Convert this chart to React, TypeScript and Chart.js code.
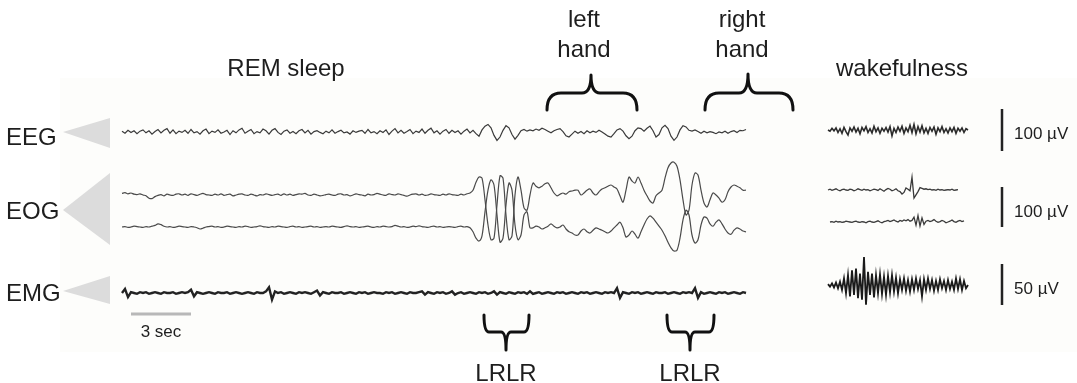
import React, { useEffect, useRef } from "react";
import { Chart, registerables } from "chart.js";

Chart.register(...registerables);

// ---------- sampling (seconds) ----------
const REM_T0 = 0.1;
const REM_DT = 0.15;
const WAKE_T0 = 35.4;
const WAKE_EOG2_T0 = 35.5;
const WAKE_DT = 0.1;

// ---------- REM sleep traces (µV) ----------
const remEEG = [
  2, -3, 4, -1, 3, -4, 2, 5, -2, 3, -5, 1, 6, -2, 4, 8, -3, 5, -4, 2,
  -1, 4, -3, 6, -2, 1, -5, 3, 7, -4, 2, -1, 5, -3, 0, 4, -6, 3, -2, 5,
  9, -3, 2, 6, -4, 1, -2, 7, 3, -5, 4, 8, -1, -6, 2, 5, -3, 1, -4, 3,
  6, -2, 4, -5, 1, 3, -1, -4, 2, -2, 5, -3, 1, 4, -2, 0, -5, 3, -1, 2,
  4, -3, 6, -2, 1, -4, 3, -1, 5, -6, 2, 8, -2, 4, -3, 1, 6, -4, 2, -1,
  7, -3, 4, 9, -2, 3, -5, 2, 6, -3, 4, -1, 3, -5, 2, 7, -2, 4,
  -4, -10, 5, 14, 18, 10, -8, -20, -12, 4,
  15, 10, -6, -17, -8, 3, 6, 2, 5, 3,
  7, 4, 9, 6, 2, -2, 3, 6, 8, 1,
  -9, -12, -5, 2, -3, 1, -4, 3, -2, 2,
  -1, 4, 0, -5, -10, -12, -4, 5, 8, 2,
  -9, -16, -10, 3, 10, 8, 2, 9, 14, 3,
  -12, -6, 10, 16, 8, -10, -20, -12, 5, 15,
  12, 4, 2, 5, 1, -3, 2, -2, 1, -1,
  -4, 0, -2, 2, -3, 1, 3, -1, 4, 3,
  6,
];

const remEOGUpper = [
  4, 6, 3, 5, 2, 1, 3, 0, -2, -8, -9, -4, -1, 1, -2, 2, 0, -1, 2, 3,
  0, 2, -1, 3, 1, -1, 2, 4, 1, 0, -1, 2, 0, 3, -1, 1, 2, -2, 0, 2,
  3, 0, -1, 2, 0, -2, 1, 0, 3, 1, -1, 1, 2, -1, 3, 0, 2, -1, 1, 3,
  2, 4, 0, -1, 2, 0, -2, -1, 1, 2, 0, -1, 2, 3, 0, 1, -2, 0, 3, 1,
  0, -2, 2, 0, 1, 4, 2, 0, -1, 3, 1, 0, 3, 1, -1, -3, 0, 2, 3, 0,
  2, -1, 0, 3, 1, 0, -1, 2, 0, 3, 1, 0, -1, 2, 0, 3,
  5, 12, 32, 45, 42, -12, -75, -112, -108, -25,
  48, 42, -50, -112, -102, 0, 45, 12, -32, -38,
  0, 30, 22, 18, 22, 28, 30, 18, 5, -2,
  2, 5, 2, 8, 10, 12, 12, 0, 5, 12,
  15, 5, 0, 8, 15, 18, 22, 25, 20, 15,
  -2, -18, 12, 45, 35, 30, 45, 30, 12, -2,
  -15, -20, -2, 5, 12, 42, 68, 80, 82, 72,
  38, -12, -50, -38, 25, 55, 50, 12, -20, -30,
  -12, 5, 0, -8, -18, -12, 8, 20, 25, 22,
  18, 12, 12,
];

const remEOGLower = [
  0, 1, -1, 0, 2, 1, 0, -1, 1, 0, 2, 4, 8, 6, 2, 0, 1, -1, 0, 2,
  1, 0, -1, 1, 0, -2, -5, -3, 0, 1, 2, 0, 1, -1, 0, 2, 1, 0, -1, 1,
  0, 2, 1, -1, 0, 1, 3, 1, 0, -1, 1, 0, 2, 1, 0, -1, 1, 2, 0, 1,
  -1, 0, 1, 2, 0, 1, -1, 0, 1, 0, 2, 1, 0, -1, 1, 3, 1, 0, 1, -1,
  0, 1, 2, 0, -1, 1, 0, 2, 1, 0, 1, 4, 2, 0, 1, -1, 0, 2, 1, 3,
  1, 0, -1, 1, 2, 0, 1, -1, 0, 1, 0, -1, 1, 2, 0, 1,
  -2, -12, -28, -35, -22, 38, 92, 118, 105, 30,
  -38, -28, 55, 110, 92, 5, -32, -20, 30, 38,
  -2, -2, 2, 0, -5, -2, 2, 8, 2, -2,
  0, 5, -5, -12, -15, -20, -20, -10, -5, -12,
  -15, -8, -2, -5, -8, -12, -15, -10, -2, 5,
  12, -2, -25, -20, -10, -18, -28, -12, 5, 20,
  28, 22, 12, 2, -8, -22, -38, -52, -60, -58,
  -28, 18, 42, 30, -20, -40, -32, 5, 25, 22,
  8, 2, 12, 18, 8, -5, -15, -18, -8, -2,
  -5, -10, -12,
];

const remEMG = [
  0, 5, -5, 1, 0, -1, 1, 0, 1, -1, 0, 1, 0, -1, 1, 0, 0, 1, -1, 0,
  1, 0, 1, 4, -4, 1, 0, -1, 0, 1, 0, -1, 1, 0, 0, 1, -1, 0, 1, 0,
  -1, 0, 1, 0, -1, 1, 0, 0, 2, 7, -8, 2, 0, 1, -1, 0, 1, 0, -1, 1,
  0, 1, 0, -1, 1, 3, -3, 1, 0, -1, 1, 0, 0, 1, -1, 0, 1, 0, -1, 1,
  0, 1, -1, 0, 1, 0, 0, -1, 1, 0, 1, -1, 0, 1, 0, -1, 1, 0, 0, 1,
  2, -2, 1, 0, -1, 1, 0, 1, -1, 0, 2, -2, 0, 1, -1, 0, 1, 0, -1, 1,
  0, 1, -1, 0, 2, -2, 1, 0, -1, 1, 0, -1, 1, 0, 1, -1, 2, -1, 0, 1,
  -1, 0, 1, 0, -1, 1, 0, 1, -1, 0, 1, 0, -1, 1, 0, 1, -1, 0, 1, 0,
  -1, 1, 0, 1, 0, 6, -6, 1, 0, -1, 1, 0, 1, -1, 0, 1, 0, -1, 1, 0,
  0, 1, -1, 0, 1, 0, -1, 1, 0, 1, 0, 6, -6, 1, -1, 0, 1, 0, -1, 1,
  0, 1, -1, 0, 1, 0, -1, 1, 0,
];

// ---------- wakefulness traces (µV) ----------
const wakeEEG = [
  0, -3, 4, -2, 5, -6, 3, -8, 6, -4, -12, 5, -3, 7, -5, 4, -9, 6, -2, 8,
  -6, 3, -7, 9, -4, 5, -8, 4, -3, 6, -5, 8, -14, 4, -6, 7, -3, 9, -8, 5,
  -4, 11, -6, 13, -9, 8, -5, 10, -7, 4, -8, 6, -3, 7, -10, 5, -4, 8, -6, 3,
  -7, 5, -4, 6, -8, 4, -3, 5, -6, 3, 0,
];

const wakeEOGUpper = [
  0, 2, -1, 1, 3, 0, -2, 1, 2, 0, -1, 2, 1, -2, 0, 3, 1, -1, 2, 0,
  1, -2, 0, 2, 1, -1, 3, 0, -3, 1, 4, 2, -2, 0, 3, -2, -4, -10, -6, 5,
  2, -2, 32, -20, -12, -4, 6, 4, 2, 3, 1, 2, 0, 1, -1, 2, 0, 1, -1, 0,
  1, 0, 2, -1, 0, 1,
];

const wakeEOGLower = [
  0, 1, -1, 2, 0, 1, -1, 0, 2, 1, 0, -1, 1, 2, 0, -1, 1, 0, -2, 1,
  2, 0, -1, 1, 3, 0, -2, 1, 2, 4, 1, 3, 5, 2, 0, 4, 2, 5, 3, 6,
  2, 4, 12, -8, 16, -10, 10, -6, 2, 4, 1, 3, 6, 2, -1, 1, 4, 2, -2, 0,
  2, 5, 1, -1, 2, 4, 1, 3,
];

const wakeEMG = [
  1, -2, 2, -3, 3, -4, 4, -6, 8, -10, 12, -14, 18, -12, 20, -16, 14, -18, 34, -24,
  16, -12, 14, -15, 12, -10, 13, -11, 10, -12, 11, -9, 12, -8, 9, -10, 7, -6, 8, -7,
  6, -8, 7, -6, 8, -5, 6, -14, 7, -6, 8, -5, 6, -7, 5, -6, 7, -4, 5, -6,
  6, -5, 4, -6, 8, -5, 7, -6, 5, -4, 0,
];

// ---------- calibration bars ----------
const EEG_BAR_UV = 100;
const EOG_BAR_UV = 100;
const EMG_BAR_UV = 50;
const TIME_BAR_SEC = 3;

// ---------- layout (figure units) ----------
const X_MIN = -6;
const X_MAX = 47.85;
const Y_MAX = 383;
const GAIN = { eeg: 0.42, eog: 0.4, emg: 0.82 };
const BASE = {
  remEEG: 132, remEOG1: 195, remEOG2: 227, remEMG: 293,
  wakeEEG: 130, wakeEOG1: 190, wakeEOG2: 222, wakeEMG: 285,
};

const toPts = (vals: number[], t0: number, dt: number, base: number, gain: number) =>
  vals.map((v, i) => ({ x: t0 + i * dt, y: base - v * gain }));

const FONT = '"Liberation Sans", Arial, Helvetica, sans-serif';

function Label(props: { x: number; y: number; size: number; text: string; align?: string }) {
  const { x, y, size, text, align = "center" } = props;
  return (
    <div
      style={{
        position: "absolute",
        left: x,
        top: y - 0.8465 * size,
        fontSize: size,
        lineHeight: 1,
        fontFamily: FONT,
        color: "#1e1e1e",
        whiteSpace: "nowrap",
        transform: align === "center" ? "translateX(-50%)" : "none",
      }}
    >
      {text}
    </div>
  );
}

export default function App() {
  const ref = useRef<HTMLCanvasElement | null>(null);

  useEffect(() => {
    if (!ref.current) return;

    const line = (data: any[], color: string, width: number, tension = 0) => ({
      data,
      borderColor: color,
      borderWidth: width,
      pointRadius: 0,
      tension,
      fill: false,
    });

    const barX = 44.1;
    const datasets = [
      line(toPts(remEEG, REM_T0, REM_DT, BASE.remEEG, GAIN.eeg), "#3a3a3a", 1.2),
      line(toPts(remEOGUpper, REM_T0, REM_DT, BASE.remEOG1, GAIN.eog), "#4a4a4a", 1.2, 0.3),
      line(toPts(remEOGLower, REM_T0, REM_DT, BASE.remEOG2, GAIN.eog), "#4a4a4a", 1.2, 0.3),
      line(toPts(remEMG, REM_T0, REM_DT, BASE.remEMG, GAIN.emg), "#222222", 2.4),
      line(toPts(wakeEEG, WAKE_T0, WAKE_DT, BASE.wakeEEG, GAIN.eeg), "#2a2a2a", 1.6),
      line(toPts(wakeEOGUpper, WAKE_T0, WAKE_DT, BASE.wakeEOG1, GAIN.eog), "#3a3a3a", 1.3),
      line(toPts(wakeEOGLower, WAKE_EOG2_T0, WAKE_DT, BASE.wakeEOG2, GAIN.eog), "#3a3a3a", 1.3),
      line(toPts(wakeEMG, WAKE_T0, WAKE_DT, BASE.wakeEMG, GAIN.emg), "#1a1a1a", 1.8),
      // calibration bars
      line([{ x: barX, y: 151 }, { x: barX, y: 151 - EEG_BAR_UV * GAIN.eeg }], "#222", 2.5),
      line([{ x: barX, y: 227 }, { x: barX, y: 227 - EOG_BAR_UV * GAIN.eog }], "#222", 2.5),
      line([{ x: barX, y: 305 }, { x: barX, y: 305 - EMG_BAR_UV * GAIN.emg }], "#222", 2.5),
      line([{ x: 0.55, y: 314 }, { x: 0.55 + TIME_BAR_SEC, y: 314 }], "#b8b8b8", 3),
    ];

    const decor = {
      id: "decor",
      beforeDatasetsDraw(chart: any) {
        const { ctx } = chart;
        const xs = chart.scales.x;
        const ys = chart.scales.y;
        const X = (t: number) => xs.getPixelForValue(t);
        const Y = (v: number) => ys.getPixelForValue(v);
        ctx.save();
        ctx.fillStyle = "#fdfdfb";
        ctx.fillRect(X(-3), Y(78), X(X_MAX) - X(-3), Y(352) - Y(78));
        ctx.fillStyle = "#dcdcdc";
        const tri = (tip: number, top: number, bot: number) => {
          ctx.beginPath();
          ctx.moveTo(X(-2.85), Y(tip));
          ctx.lineTo(X(-0.5), Y(top));
          ctx.lineTo(X(-0.5), Y(bot));
          ctx.closePath();
          ctx.fill();
        };
        tri(132, 118, 148);
        tri(210, 173, 245);
        tri(291, 276, 304);
        ctx.restore();
      },
      afterDatasetsDraw(chart: any) {
        const { ctx } = chart;
        const xs = chart.scales.x;
        const ys = chart.scales.y;
        const X = (t: number) => xs.getPixelForValue(t);
        const Y = (v: number) => ys.getPixelForValue(v);
        const brace = (tl: number, tc: number, tr: number, yEnd: number, yMid: number, yTip: number, r: number, r2: number) => {
          const xl = X(tl), xc = X(tc), xr = X(tr);
          const ye = Y(yEnd), ym = Y(yMid), yt = Y(yTip);
          ctx.beginPath();
          ctx.moveTo(xl, ye);
          ctx.quadraticCurveTo(xl, ym, xl + r, ym);
          ctx.lineTo(xc - r2, ym);
          ctx.quadraticCurveTo(xc, ym, xc, yt);
          ctx.quadraticCurveTo(xc, ym, xc + r2, ym);
          ctx.lineTo(xr - r, ym);
          ctx.quadraticCurveTo(xr, ym, xr, ye);
          ctx.stroke();
        };
        ctx.save();
        ctx.strokeStyle = "#111";
        ctx.lineWidth = 3;
        ctx.lineCap = "round";
        ctx.lineJoin = "round";
        brace(21.35, 23.55, 25.85, 110, 93, 75, 14, 9);
        brace(29.25, 31.4, 33.65, 110, 93, 74, 14, 9);
        brace(18.2, 19.3, 20.45, 315, 332, 350, 5, 5);
        brace(27.35, 28.5, 29.7, 315, 332, 350, 5, 5);
        ctx.restore();
      },
    };

    const chart = new Chart(ref.current, {
      type: "line",
      data: { datasets },
      options: {
        animation: false,
        responsive: false,
        devicePixelRatio: 1,
        layout: { padding: 0 },
        plugins: { legend: { display: false }, tooltip: { enabled: false } },
        scales: {
          x: { type: "linear", min: X_MIN, max: X_MAX, display: false },
          y: { type: "linear", min: 0, max: Y_MAX, reverse: true, display: false },
        },
      },
      plugins: [decor],
    } as any);

    return () => chart.destroy();
  }, []);

  return (
    <div style={{ position: "absolute", left: 0, top: 0, width: 1077, height: 383, background: "#fff", overflow: "hidden" }}>
      <canvas ref={ref} width={1077} height={383} style={{ position: "absolute", left: 0, top: 0 }} />
      <Label x={286} y={76} size={24} text="REM sleep" />
      <Label x={584} y={27} size={24} text="left" />
      <Label x={584} y={57} size={24} text="hand" />
      <Label x={742} y={27} size={24} text="right" />
      <Label x={742} y={57} size={24} text="hand" />
      <Label x={902} y={76} size={24} text="wakefulness" />
      <Label x={6} y={145} size={24} text="EEG" align="left" />
      <Label x={6} y={219} size={24} text="EOG" align="left" />
      <Label x={6} y={301} size={24} text="EMG" align="left" />
      <Label x={1014} y={139} size={17} text="100 µV" align="left" />
      <Label x={1014} y={217} size={17} text="100 µV" align="left" />
      <Label x={1014} y={294} size={17} text="50 µV" align="left" />
      <Label x={161} y={337} size={17} text="3 sec" />
      <Label x={506} y={381} size={24} text="LRLR" />
      <Label x={690} y={381} size={24} text="LRLR" />
    </div>
  );
}
